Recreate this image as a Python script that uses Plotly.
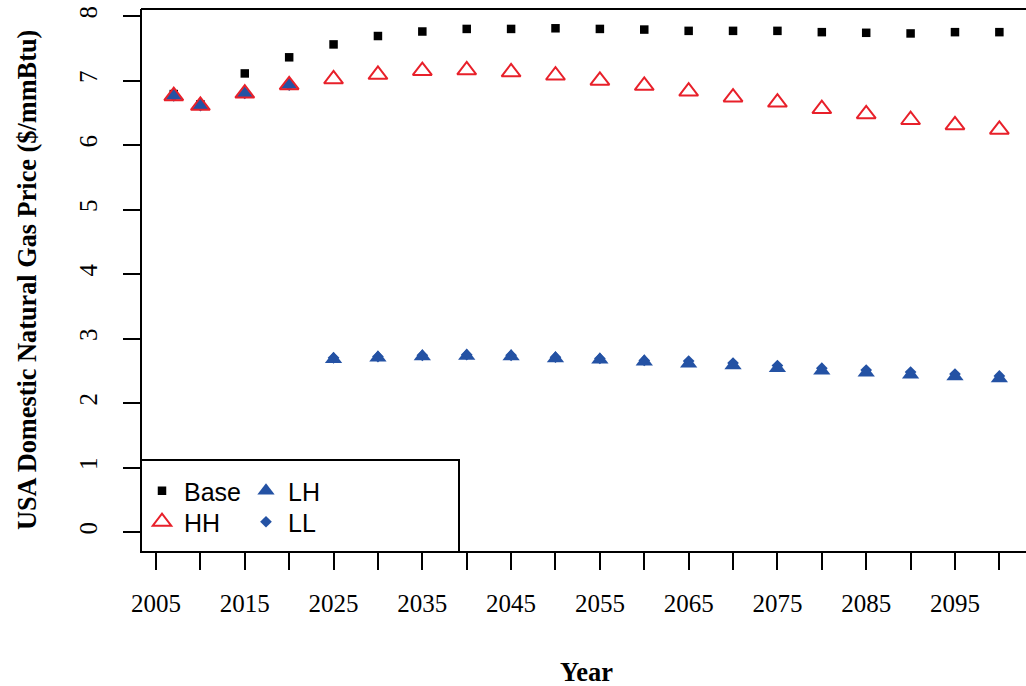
import plotly.graph_objects as go

# Projection years and price series ($/mmBtu)
years = [2007, 2010, 2015, 2020, 2025, 2030, 2035, 2040, 2045, 2050,
         2055, 2060, 2065, 2070, 2075, 2080, 2085, 2090, 2095, 2100]
base = [6.79, 6.63, 7.11, 7.36, 7.56, 7.69, 7.76, 7.80, 7.80, 7.81,
        7.80, 7.79, 7.77, 7.77, 7.77, 7.75, 7.74, 7.73, 7.75, 7.75]
hh = [6.76, 6.61, 6.80, 6.93, 7.02, 7.09, 7.15, 7.16, 7.13, 7.08,
      7.00, 6.92, 6.83, 6.74, 6.66, 6.56, 6.48, 6.39, 6.31, 6.24]
lh = [6.76, 6.61, 6.80, 6.93, 2.68, 2.70, 2.72, 2.73, 2.72, 2.69,
      2.67, 2.64, 2.61, 2.58, 2.54, 2.50, 2.47, 2.44, 2.41, 2.38]
ll = [6.76, 6.61, 6.80, 6.93, 2.70, 2.72, 2.74, 2.75, 2.74, 2.71,
      2.69, 2.66, 2.65, 2.62, 2.58, 2.54, 2.51, 2.48, 2.45, 2.42]

x_ticks = list(range(2005, 2101, 5))
x_labels = [str(v) if (v - 2005) % 10 == 0 and v < 2100 else "" for v in x_ticks]
y_ticks = list(range(0, 9))

BLACK = "#000000"
RED = "#E8202A"
BLUE = "#2452A4"
SERIF = "Liberation Serif, Times New Roman, serif"
SANS = "Liberation Sans, Arial, Helvetica, sans-serif"

W, H = 1026, 686
L, R, T, B = 141, 0, 9, 134
pw, ph = W - L - R, H - T - B


def px_x(p):
    return (p - L) / pw


def px_y(p):
    return (H - B - p) / ph


fig = go.Figure()

# draw order: Base, LL, LH, then HH outlines on top
fig.add_trace(go.Scatter(
    x=years, y=base, mode="markers", name="Base", legend="legend",
    marker=dict(symbol="square", size=8.5, color=BLACK)))
fig.add_trace(go.Scatter(
    x=years, y=ll, mode="markers", name="LL", legend="legend4",
    marker=dict(symbol="diamond", size=9, color=BLUE)))
fig.add_trace(go.Scatter(
    x=years, y=lh, mode="markers", name="LH", legend="legend3",
    marker=dict(symbol="triangle-up", size=15, color=BLUE)))
fig.add_trace(go.Scatter(
    x=years, y=hh, mode="markers", name="HH", legend="legend2",
    marker=dict(symbol="triangle-up-open", size=16.5, color=RED,
                line=dict(width=2, color=RED))))

axis_common = dict(
    showgrid=False, zeroline=False, showline=False,
    ticks="outside", ticklen=17, tickwidth=1.5, tickcolor=BLACK,
    tickfont=dict(family=SERIF, size=25, color=BLACK),
)


def legend_at(px, py):
    return dict(x=px_x(px), y=px_y(py), xanchor="left", yanchor="middle",
                bgcolor="rgba(0,0,0,0)", borderwidth=0, itemwidth=34,
                font=dict(family=SANS, size=25, color=BLACK),
                itemsizing="trace")


fig.update_layout(
    width=W, height=H,
    margin=dict(l=L, r=R, t=T, b=B),
    paper_bgcolor="white", plot_bgcolor="white",
    showlegend=True,
    xaxis=dict(range=[2003.31, 2103.0], tickmode="array",
               tickvals=x_ticks, ticktext=x_labels,
               ticklabelstandoff=12, **axis_common),
    yaxis=dict(range=[-0.31, 8.109], tickmode="array",
               tickvals=y_ticks, ticktext=[str(v) for v in y_ticks],
               tickangle=-90, ticklabelstandoff=16, **axis_common),
    legend=legend_at(140, 491),
    legend2=legend_at(140, 522),
    legend3=legend_at(244, 491),
    legend4=legend_at(244, 522),
    shapes=[
        # plot frame (left, top, bottom)
        dict(type="line", xref="paper", yref="paper", x0=0, x1=0, y0=0, y1=1,
             line=dict(color=BLACK, width=2)),
        dict(type="line", xref="paper", yref="paper", x0=0, x1=1, y0=1, y1=1,
             line=dict(color=BLACK, width=2)),
        dict(type="line", xref="paper", yref="paper", x0=0, x1=1, y0=0, y1=0,
             line=dict(color=BLACK, width=2)),
        # legend box
        dict(type="rect", xref="paper", yref="paper",
             x0=0, x1=px_x(459), y0=0, y1=px_y(460),
             line=dict(color=BLACK, width=2), fillcolor="rgba(0,0,0,0)"),
    ],
    annotations=[
        dict(text="<b>Year</b>", xref="paper", yref="paper",
             x=px_x(586), y=px_y(672), xanchor="center", yanchor="middle",
             showarrow=False, font=dict(family=SERIF, size=26.5, color=BLACK)),
        dict(text="<b>USA Domestic Natural Gas Price ($/mmBtu)</b>",
             xref="paper", yref="paper", x=px_x(28), y=px_y(280),
             xanchor="center", yanchor="middle", textangle=-90,
             showarrow=False, font=dict(family=SERIF, size=26.3, color=BLACK)),
    ],
)

fig.write_html("out.html")
